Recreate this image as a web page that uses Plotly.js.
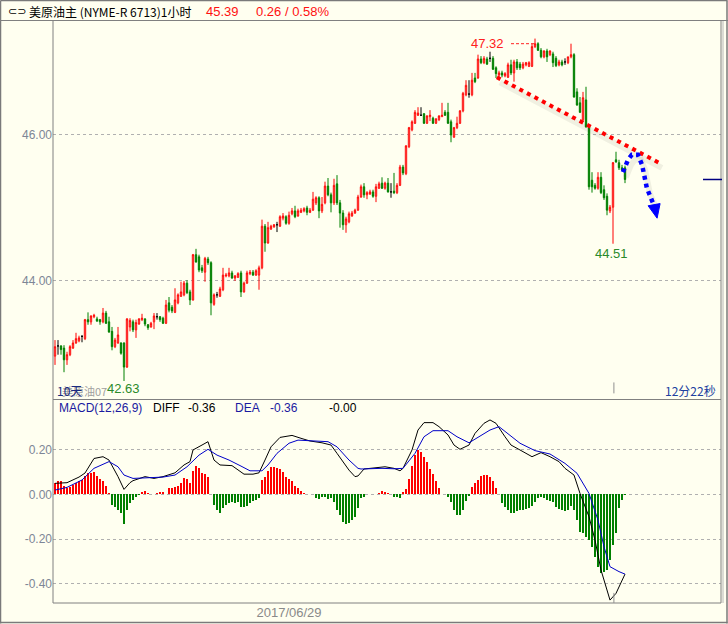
<!DOCTYPE html>
<html><head><meta charset="utf-8">
<script src="https://cdn.plot.ly/plotly-3.0.1.min.js"></script>
<style>html,body{margin:0;padding:0;background:#FFFFF0;} #chart{width:728px;height:624px;}</style>
</head><body><div id="chart"></div>
<script>
// ---------- DATA ----------
const openP = [
42.97,43.11,43.11,43.08,42.92,42.99,43.08,43.15,43.18,43.24,
43.21,43.47,43.44,43.51,43.48,43.47,43.44,43.56,43.44,43.31,
43.10,43.15,43.15,43.15,42.82,43.37,43.44,43.33,43.41,43.47,
43.48,43.40,43.37,43.44,43.51,43.51,43.49,43.42,43.70,43.64,
43.57,43.70,43.79,43.81,43.97,43.85,43.74,44.36,44.33,44.18,
44.12,44.30,44.25,43.68,43.81,43.79,43.88,44.07,44.07,44.11,
44.04,44.05,44.11,43.85,43.97,44.10,44.12,44.08,44.08,44.18,
44.75,44.52,44.71,44.74,44.77,44.75,44.86,44.88,44.79,44.92,
44.96,44.89,44.94,44.96,45.00,44.94,44.97,45.07,45.14,44.96,
45.07,45.30,45.18,45.07,45.33,45.07,44.93,44.77,44.81,44.89,
44.93,44.97,45.15,45.29,45.18,45.19,45.22,45.16,45.27,45.34,
45.27,45.34,45.22,45.23,45.21,45.31,45.56,45.47,45.84,46.07,
46.16,46.27,46.27,46.29,46.16,46.25,46.23,46.16,46.21,46.25,
46.31,46.31,46.18,45.97,46.10,46.16,46.33,46.55,46.56,46.55,
46.78,46.78,47.04,46.99,47.04,47.05,47.05,46.92,46.82,46.85,
46.81,46.79,46.96,46.85,47.00,46.97,46.92,46.96,46.94,46.94,
47.21,47.25,47.16,47.07,47.15,47.10,47.11,47.05,46.96,47.00,
47.00,46.99,47.07,47.10,46.59,46.44,46.21,46.48,46.11,45.38,
45.31,45.27,45.42,45.25,45.16,44.96,45.01,45.66,45.62,45.55,
45.55];
const highP = [
43.19,43.19,43.12,43.12,43.03,43.12,43.19,43.29,43.25,43.26,
43.48,43.57,43.53,43.55,43.51,43.48,43.63,43.59,43.51,43.37,
43.22,43.37,43.16,43.16,43.49,43.49,43.47,43.47,43.49,43.55,
43.49,43.41,43.44,43.56,43.56,43.52,43.51,43.74,43.78,43.67,
43.90,43.83,43.99,44.00,44.01,43.88,44.37,44.44,44.36,44.22,
44.33,44.33,44.27,43.83,43.85,43.92,44.18,44.11,44.18,44.14,
44.08,44.12,44.14,43.99,44.14,44.15,44.15,44.16,44.21,44.84,
44.78,44.81,44.77,44.78,44.81,44.90,44.93,44.90,44.95,45.00,
45.03,44.99,45.00,45.01,45.03,45.00,45.22,45.16,45.16,45.15,
45.36,45.41,45.21,45.40,45.45,45.11,44.97,44.88,44.95,44.96,
44.99,45.18,45.32,45.34,45.23,45.25,45.25,45.33,45.36,45.42,
45.36,45.41,45.34,45.48,45.34,45.59,45.59,45.86,46.11,46.20,
46.34,46.38,46.38,46.30,46.27,46.34,46.25,46.23,46.27,46.44,
46.34,46.44,46.21,46.11,46.25,46.34,46.59,46.75,46.75,46.85,
46.85,47.10,47.08,47.08,47.07,47.14,47.08,46.94,46.88,46.88,
46.86,46.99,47.03,47.03,47.04,47.00,47.00,47.00,47.01,47.25,
47.32,47.27,47.19,47.16,47.18,47.16,47.14,47.08,47.03,47.03,
47.05,47.07,47.25,47.12,46.64,46.52,46.59,46.66,46.14,45.49,
45.34,45.49,45.49,45.31,45.20,45.04,45.63,45.77,45.66,45.59,
45.58];
const lowP = [
42.85,42.99,42.99,42.75,42.85,42.97,43.07,43.14,43.16,43.16,
43.19,43.40,43.40,43.49,43.44,43.40,43.42,43.41,43.29,43.05,
43.08,43.14,42.99,42.63,42.81,43.31,43.30,43.22,43.40,43.45,
43.38,43.33,43.36,43.34,43.47,43.44,43.41,43.41,43.57,43.56,
43.56,43.68,43.78,43.79,43.82,43.67,43.73,44.25,44.12,44.11,
43.99,44.22,43.53,43.66,43.77,43.78,43.86,44.05,44.05,44.03,
44.00,44.04,43.78,43.84,43.96,44.08,44.07,44.07,43.88,44.16,
44.40,44.51,44.70,44.73,44.67,44.74,44.83,44.77,44.77,44.90,
44.86,44.88,44.93,44.94,44.90,44.93,44.96,45.04,44.86,44.93,
45.05,45.16,44.94,45.04,45.04,44.73,44.70,44.66,44.79,44.88,
44.92,44.96,45.14,45.14,45.12,45.18,45.14,45.08,45.26,45.26,
45.25,45.21,45.14,45.19,45.19,45.30,45.45,45.45,45.82,46.05,
46.15,46.26,46.26,46.15,46.15,46.19,46.15,46.15,46.19,46.25,
46.26,46.15,45.90,45.96,46.08,46.15,46.31,46.53,46.51,46.53,
46.71,46.77,46.97,46.97,46.96,47.00,46.89,46.78,46.77,46.79,
46.79,46.78,46.82,46.73,46.89,46.89,46.90,46.94,46.93,46.93,
47.19,47.15,47.05,47.05,47.00,47.08,46.93,46.93,46.94,46.94,
46.96,46.97,47.05,46.51,46.40,46.30,46.18,46.10,45.25,45.21,
45.25,45.25,45.19,45.11,44.90,44.93,44.51,45.62,45.52,45.51,
45.34];
const closeP = [
43.10,43.11,43.06,42.92,42.99,43.10,43.15,43.21,43.22,43.24,
43.47,43.44,43.52,43.53,43.45,43.44,43.56,43.42,43.30,43.10,
43.19,43.26,43.01,42.82,43.48,43.46,43.33,43.43,43.48,43.49,
43.41,43.36,43.42,43.52,43.51,43.47,43.42,43.67,43.60,43.59,
43.74,43.81,43.85,43.97,43.84,43.74,44.36,44.26,44.15,44.14,
44.31,44.25,43.70,43.81,43.81,43.89,44.08,44.08,44.11,44.04,
44.07,44.10,43.85,43.97,44.11,44.12,44.08,44.14,44.18,44.75,
44.52,44.73,44.75,44.77,44.77,44.88,44.89,44.79,44.90,44.96,
44.88,44.96,44.97,44.99,44.94,44.97,45.12,45.14,44.96,45.05,
45.30,45.18,45.07,45.31,45.07,44.93,44.77,44.85,44.92,44.93,
44.97,45.15,45.29,45.18,45.21,45.22,45.16,45.29,45.33,45.27,
45.34,45.22,45.22,45.21,45.31,45.56,45.48,45.85,46.10,46.18,
46.31,46.30,46.27,46.16,46.26,46.27,46.16,46.22,46.26,46.27,
46.27,46.16,46.00,46.10,46.16,46.33,46.57,46.68,46.56,46.75,
46.73,47.04,46.99,47.05,46.97,47.05,46.90,46.84,46.85,46.82,
46.84,46.96,46.85,47.00,46.92,46.92,46.97,46.99,46.99,47.21,
47.25,47.16,47.07,47.15,47.07,47.15,46.99,46.95,47.00,46.96,
47.00,47.07,47.10,46.52,46.41,46.31,46.51,46.11,45.29,45.29,
45.27,45.42,45.21,45.14,44.97,45.01,45.62,45.63,45.55,45.52,
45.39];
const macdHist = [
0.049,0.06,0.06,0.037,0.03,0.034,0.041,0.05,0.058,0.064,
0.082,0.095,0.097,0.10,0.082,0.067,0.061,0.037,0.007,-0.047,
-0.055,-0.07,-0.085,-0.132,-0.07,-0.04,-0.025,-0.01,-0.003,0.012,
0.017,0.007,0.001,0.0,0.004,0.01,0.01,0.0,0.027,0.027,
0.031,0.037,0.052,0.071,0.067,0.049,0.106,0.127,0.116,0.094,
0.091,0.079,0.0,-0.047,-0.07,-0.082,-0.063,-0.047,-0.04,-0.033,
-0.04,-0.033,-0.055,-0.058,-0.052,-0.037,-0.03,-0.025,-0.018,0.064,
0.079,0.106,0.121,0.121,0.116,0.112,0.10,0.076,0.067,0.058,
0.037,0.027,0.016,0.007,0.001,0.001,0.0,-0.018,-0.022,-0.01,
-0.013,-0.022,-0.018,-0.033,-0.07,-0.092,-0.122,-0.132,-0.129,-0.115,
-0.102,-0.063,-0.018,-0.01,0.0,0.001,0.001,0.001,0.004,0.016,
0.012,0.007,0.0,-0.01,-0.013,-0.018,0.012,0.022,0.068,0.125,
0.176,0.196,0.19,0.168,0.145,0.111,0.09,0.061,0.027,0.001,
0.0,-0.01,-0.033,-0.07,-0.092,-0.092,-0.07,-0.028,-0.006,0.031,
0.049,0.064,0.082,0.086,0.086,0.076,0.058,0.027,0.0,-0.04,
-0.055,-0.07,-0.085,-0.085,-0.073,-0.07,-0.07,-0.067,-0.063,-0.052,
-0.033,-0.018,-0.01,-0.018,-0.025,-0.028,-0.033,-0.055,-0.067,-0.07,
-0.076,-0.07,-0.052,-0.07,-0.115,-0.167,-0.174,-0.189,-0.204,-0.234,
-0.278,-0.323,-0.353,-0.345,-0.338,-0.293,-0.226,-0.174,-0.063,-0.025,
-0.003];
const diffIdx  = [0,4,8,10,13,15,16,18,20,21,23,25,26,30,33,36,40,43,45,46,49,51,53,55,59,61,63,66,68,70,72,75,79,82,85,89,92,94,98,100,101,103,106,110,113,115,116,119,121,123,126,128,131,133,135,138,140,143,145,147,150,152,155,159,162,165,168,170,173,175,178,180,182,185,187,190];
const diffVals = [0.049,0.052,0.077,0.095,0.16,0.166,0.168,0.153,0.108,0.079,0.022,0.052,0.061,0.079,0.071,0.079,0.096,0.131,0.146,0.198,0.22,0.235,0.153,0.131,0.128,0.108,0.09,0.09,0.096,0.153,0.212,0.254,0.263,0.25,0.238,0.23,0.22,0.183,0.108,0.079,0.082,0.113,0.116,0.123,0.116,0.105,0.116,0.198,0.287,0.32,0.32,0.302,0.265,0.22,0.201,0.22,0.272,0.317,0.332,0.317,0.257,0.22,0.198,0.168,0.186,0.168,0.146,0.116,0.086,0.004,-0.1,-0.204,-0.338,-0.472,-0.442,-0.356];
const deaIdx  = [0,4,9,13,18,21,23,26,31,36,40,44,48,51,54,58,62,65,69,71,74,78,81,86,91,94,98,101,102,109,113,116,120,123,126,131,134,138,141,145,148,151,155,160,165,170,174,178,181,183,185,188,190];
const deaVals = [0.019,0.031,0.064,0.116,0.146,0.123,0.086,0.071,0.074,0.077,0.086,0.123,0.175,0.201,0.175,0.153,0.126,0.105,0.105,0.131,0.183,0.228,0.242,0.24,0.235,0.212,0.153,0.116,0.113,0.116,0.114,0.116,0.183,0.257,0.284,0.284,0.257,0.23,0.254,0.287,0.302,0.272,0.228,0.195,0.18,0.138,0.094,0.004,-0.115,-0.234,-0.323,-0.345,-0.356];
const priceTickVals = [44, 46];
const priceTickText = ['44.00', '46.00'];
const macdTickVals = [0.2, 0, -0.2, -0.4];
const macdTickText = ['0.20', '0.00', '-0.20', '-0.40'];
const dateTickIdx = [78];
const dateTickText = ['2017/06/29'];
const lastPrice = 45.39;
const peakIdx = 160, peakVal = 47.32;
const lowIdx = 186, lowVal = 44.51;
const minIdx = 23, minVal = 42.63;

// ---------- build ----------
const idx = openP.map((_, i) => i);
const isDoji = idx.map(i => Math.abs(openP[i] - closeP[i]) < 0.005);
const pick = (arr, want) => idx.filter(i => isDoji[i] === want).map(i => arr[i]);
const idxN = idx.filter(i => !isDoji[i]);
const idxD = idx.filter(i => isDoji[i]);
const BG = '#FFFFF0';
const RED = '#FF0000', GREEN = '#008000';

const candles = {
  type: 'candlestick', x: idxN, open: pick(openP, false), high: pick(highP, false),
  low: pick(lowP, false), close: pick(closeP, false), xaxis: 'x', yaxis: 'y',
  increasing: {line: {color: RED, width: 1}, fillcolor: BG},
  decreasing: {line: {color: GREEN, width: 1}, fillcolor: GREEN},
  hoverinfo: 'skip', showlegend: false
};
const dojis = {
  type: 'candlestick', x: idxD, open: pick(openP, true), high: pick(highP, true),
  low: pick(lowP, true), close: pick(closeP, true), xaxis: 'x', yaxis: 'y',
  increasing: {line: {color: '#000000', width: 1}, fillcolor: '#000000'},
  decreasing: {line: {color: '#000000', width: 1}, fillcolor: '#000000'},
  hoverinfo: 'skip', showlegend: false
};
const hist = {
  type: 'bar', x: idx, y: macdHist, xaxis: 'x2', yaxis: 'y2', width: 0.37,
  marker: {color: macdHist.map(v => v >= 0 ? RED : GREEN), line: {width: 0}},
  hoverinfo: 'skip', showlegend: false
};
const diffLine = {type: 'scatter', mode: 'lines', x: diffIdx, y: diffVals, xaxis: 'x2', yaxis: 'y2',
  line: {color: '#000000', width: 1}, hoverinfo: 'skip', showlegend: false};
const deaLine = {type: 'scatter', mode: 'lines', x: deaIdx, y: deaVals, xaxis: 'x2', yaxis: 'y2',
  line: {color: '#0000C8', width: 1}, hoverinfo: 'skip', showlegend: false};

// pixel helpers for layout decorations (not data)
const PL = 53, PR = 721, PT = 21, PB = 603;
const px = v => (v - PL) / (PR - PL);
const py = v => (PB - v) / (PB - PT);
const GRAY = '#808080';
const tickFont = {family: 'Liberation Sans, Arial, sans-serif', size: 12, color: '#7d8696'};
const txtFont = (size, color, fam) => ({family: fam || 'Liberation Sans, Arial, sans-serif', size: size, color: color});
const cjk = 'Noto Sans CJK SC, sans-serif';

function pline(x0, y0, x1, y1, color, width) {
  return {type: 'line', xref: 'paper', yref: 'paper', x0: px(x0), y0: py(y0), x1: px(x1), y1: py(y1),
          line: {color: color, width: width || 1}, layer: 'above'};
}
function paperText(text, x, y, font, xanchor) {
  return {xref: 'paper', yref: 'paper', x: px(x), y: py(y), text: text, showarrow: false,
          xanchor: xanchor || 'left', yanchor: 'middle', font: font};
}

const shapes = [
  // outer frame and panel lines
  pline(0.5, 0.5, 727.5, 0.5, '#7a7a7a', 1.5),
  pline(0.5, 0.5, 0.5, 623.5, '#7a7a7a', 1.5),
  pline(727, 0.5, 727, 623.5, '#7a7a7a', 1.5),
  pline(0.5, 622.5, 727.5, 622.5, '#7a7a7a', 1.5),
  pline(0, 20.5, 728, 20.5, GRAY, 1),
  pline(PL, 21, PL, PB, GRAY, 1),
  pline(PL, 399.5, PR, 399.5, GRAY, 1),
  pline(PL, PB, PR, PB, GRAY, 1),
  pline(PR, 21, PR, PB, GRAY, 1),
  pline(PR + 2, 21, PR + 2, PB, '#b8b8b8', 1),
  // last price marker
  {type: 'line', xref: 'paper', yref: 'y', x0: px(703), x1: px(722), y0: lastPrice, y1: lastPrice,
   line: {color: '#000080', width: 1.5}},
  // cursor ticks
  {type: 'line', xref: 'x', yref: 'y', x0: 186.3, x1: 186.3, y0: 42.46, y1: 42.61, line: {color: '#909090', width: 1}},
  {type: 'line', xref: 'x2', yref: 'y2', x0: 186.3, x1: 186.3, y0: -0.485, y1: -0.44, line: {color: '#909090', width: 1}},
  // red dotted trend line with soft shadow
  {type: 'line', xref: 'x', yref: 'y', x0: 148.3, y0: 46.72, x1: 202.3, y1: 45.55,
   line: {color: 'rgba(0,0,0,0.06)', width: 6}},
  {type: 'line', xref: 'x', yref: 'y', x0: 147.3, y0: 46.79, x1: 201.3, y1: 45.62,
   line: {color: '#FF0000', width: 4, dash: '4px,4.5px'}},
  // blue dotted arrow (shadow + dots + head)
  {type: 'path', xref: 'x', yref: 'y',
   path: 'M 190.3 45.42 L 192 45.59 L 193.3 45.66 L 195.3 45.66 L 196.7 45.52 L 198.3 45.20 L 200.3 45.00',
   line: {color: 'rgba(0,0,0,0.06)', width: 6}},
  {type: 'path', xref: 'x', yref: 'y',
   path: 'M 189.3 45.49 L 191 45.66 L 192.3 45.73 L 194.3 45.73 L 195.7 45.59 L 197.3 45.27 L 199.3 45.07',
   line: {color: '#0000FF', width: 4.5, dash: '4px,4px'}},
  {type: 'path', xref: 'x', yref: 'y',
   path: 'M 197.7 45.03 L 201.7 45.06 L 200.7 44.86 Z',
   fillcolor: '#0000FF', line: {color: '#0000FF', width: 1}},
  // dashed connector to peak label
  {type: 'line', xref: 'x', yref: 'y', x0: 152, x1: 160.3, y0: 47.25, y1: 47.25,
   line: {color: '#FF2020', width: 1, dash: '3px,2px'}}
];

const annotations = [
  // header bar
  paperText('⊂⊃', 6, 11, txtFont(11, '#000000', 'DejaVu Sans, sans-serif')),
  paperText('美原油主 (NYME-R 6713)1小时', 27, 11.5, txtFont(12, '#000000', cjk)),
  paperText('45.39', 204, 11.5, txtFont(13, '#FF1010')),
  paperText('0.26 / 0.58%', 254, 11.5, txtFont(13, '#FF1010')),
  // MACD header
  paperText('MACD(12,26,9)', 57, 408, txtFont(12, '#1a1aa0')),
  paperText('DIFF', 151, 408, txtFont(12, '#000000')),
  paperText('-0.36', 186, 408, txtFont(12, '#000000')),
  paperText('DEA', 233, 408, txtFont(12, '#1a1aa0')),
  paperText('-0.36', 268, 408, txtFont(12, '#1a1aa0')),
  paperText('-0.00', 327, 408, txtFont(12, '#000000')),
  // bottom labels of price panel
  paperText('美原油07', 60, 391, txtFont(11, '#a0a0a0', cjk)),
  paperText('10天', 55, 390, txtFont(12, '#1a2a80', cjk)),
  paperText('12分22秒', 718, 390, txtFont(12, '#2040a0', cjk), 'right'),
  // price marks
  {xref: 'x', yref: 'y', x: minIdx, y: minVal, text: minVal.toFixed(2), showarrow: false,
   xanchor: 'center', yanchor: 'middle', xshift: -1, yshift: -8, font: txtFont(13, '#2a8a2a')},
  {xref: 'x', yref: 'y', x: lowIdx, y: lowVal, text: lowVal.toFixed(2), showarrow: false,
   xanchor: 'center', yanchor: 'middle', xshift: -2, yshift: -10, font: txtFont(13, '#2a8a2a')},
  {xref: 'x', yref: 'y', x: peakIdx, y: peakVal, text: peakVal.toFixed(2), showarrow: false,
   xanchor: 'right', yanchor: 'middle', xshift: -29, yshift: -5, font: txtFont(13, '#FF2020')},
  {xref: 'x', yref: 'y', x: 151.3, y: 47.25, text: ' ', showarrow: true, ax: 7, ay: 0,
   arrowhead: 2, arrowsize: 1, arrowwidth: 1, arrowcolor: '#FF2020', standoff: 0}
];

const layout = {
  width: 728, height: 624,
  margin: {l: PL, r: 728 - PR, t: PT, b: 624 - PB, pad: 0},
  paper_bgcolor: BG, plot_bgcolor: BG,
  showlegend: false, boxgap: 0.35, bargap: 0,
  xaxis: {domain: [0, 1], anchor: 'y', range: [-0.667, 222], showticklabels: false, showgrid: false,
          zeroline: false, showline: false, ticks: '', rangeslider: {visible: false}, fixedrange: true},
  yaxis: {domain: [(PB - 399) / (PB - PT), 1], anchor: 'x', range: [42.383, 47.561],
          tickmode: 'array', tickvals: priceTickVals, ticktext: priceTickText, tickfont: tickFont,
          showgrid: true, gridcolor: '#b0b0b0', griddash: 'dot', gridwidth: 1, zeroline: false,
          showline: false, ticks: '', fixedrange: true},
  xaxis2: {domain: [0, 1], anchor: 'y2', matches: 'x', showgrid: false, zeroline: false, showline: false,
           tickmode: 'array', tickvals: dateTickIdx, ticktext: dateTickText, ticks: '',
           tickfont: txtFont(13, '#8a8a8a'), fixedrange: true},
  yaxis2: {domain: [0, (PB - 400) / (PB - PT)], anchor: 'x2', range: [-0.485, 0.421],
           tickmode: 'array', tickvals: macdTickVals, ticktext: macdTickText, tickfont: tickFont,
           showgrid: true, gridcolor: '#b0b0b0', griddash: 'dot', gridwidth: 1, zeroline: false,
           showline: false, ticks: '', fixedrange: true},
  shapes: shapes,
  annotations: annotations
};

Plotly.newPlot('chart', [hist, diffLine, deaLine, candles, dojis], layout, {staticPlot: true, displayModeBar: false});
</script>
</body></html>
